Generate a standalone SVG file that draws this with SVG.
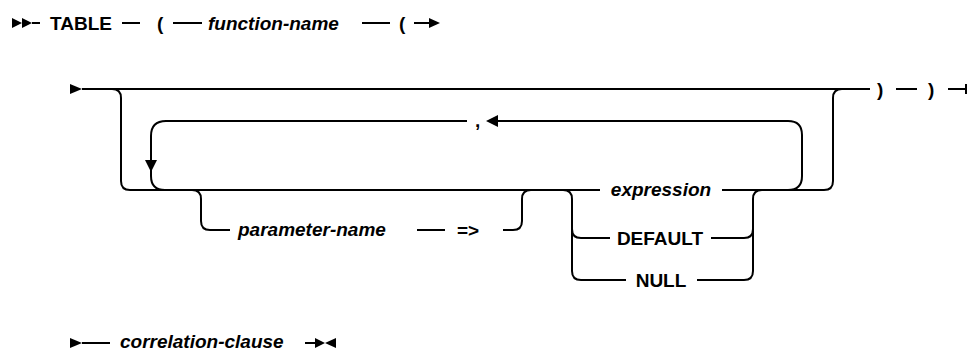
<svg xmlns="http://www.w3.org/2000/svg" width="968" height="352" viewBox="0 0 968 352">
<defs>
<style>
.ln{fill:none;stroke:#000;stroke-width:2}
.ah{fill:#000;stroke:none}
.kw{font-family:"Liberation Sans",Arial,sans-serif;font-size:19px;font-weight:bold;fill:#000}
.var{font-family:"Liberation Sans",Arial,sans-serif;font-size:19px;font-weight:bold;font-style:italic;fill:#000}
.mid{text-anchor:middle}
</style>
</defs>
<rect width="968" height="352" fill="#fff"/>
<g id="connectors">
<polygon class="ah" points="12,18 22,23 12,28"/>
<polygon class="ah" points="22,18 32,23 22,28"/>
<path class="ln" d="M32 23H40M122 23H140M173 23H202M362 23H390M414 23H430"/>
<polygon class="ah" points="429,18 440,23 429,28"/>
<polygon class="ah" points="70,84 82,89 70,94"/>
<path class="ln" d="M82 89H870M896 89H917M948 89H966M966 84V94"/>
<path class="ln" d="M112 89Q121 89 121 98V181Q121 190 130 190H600M722 190H824Q833 190 833 181V98Q833 89 842 89"/>
<path class="ln" d="M788 190Q802 190 802 176V135Q802 121 788 121H498"/>
<polygon class="ah" points="498,115 486,121 498,127"/>
<path class="ln" d="M467 121H166Q151 121 151 136V176Q151 190 165 190"/>
<polygon class="ah" points="145,160 151,172 157,160"/>
<path class="ln" d="M192 190Q201 190 201 199V221Q201 230 210 230H230M417 230H445M503 230H513Q522 230 522 221V199Q522 190 531 190"/>
<path class="ln" d="M563 190Q572 190 572 199V271Q572 280 581 280H626M572 229Q572 238 581 238H610"/>
<path class="ln" d="M697 280H744Q753 280 753 271V199Q753 190 762 190M711 238H744Q753 238 753 229"/>
<polygon class="ah" points="70,338 82,343 70,348"/>
<path class="ln" d="M82 343H110M305 343H316"/>
<polygon class="ah" points="315,338 325,343 315,348"/>
<polygon class="ah" points="336,338 325,343 336,348"/>
</g>
<g id="n-table"><text class="kw" x="50" y="30">TABLE</text></g>
<g id="n-lparen1"><text class="kw" x="157" y="30">(</text></g>
<g id="n-function-name"><text class="var" x="208" y="30">function-name</text></g>
<g id="n-lparen2"><text class="kw" x="399" y="30">(</text></g>
<g id="n-comma"><text class="kw" x="475" y="127">,</text></g>
<g id="n-parameter-name"><text class="var" x="238" y="236">parameter-name</text></g>
<g id="n-arrow-op"><text class="kw" x="457" y="237">=&gt;</text></g>
<g id="n-expression"><text class="var mid" x="661" y="196">expression</text></g>
<g id="n-default"><text class="kw mid" x="660" y="245">DEFAULT</text></g>
<g id="n-null"><text class="kw mid" x="661" y="287">NULL</text></g>
<g id="n-rparen1"><text class="kw" x="877" y="96">)</text></g>
<g id="n-rparen2"><text class="kw" x="928" y="96">)</text></g>
<g id="n-correlation-clause"><text class="var" x="120" y="348">correlation-clause</text></g>
</svg>
